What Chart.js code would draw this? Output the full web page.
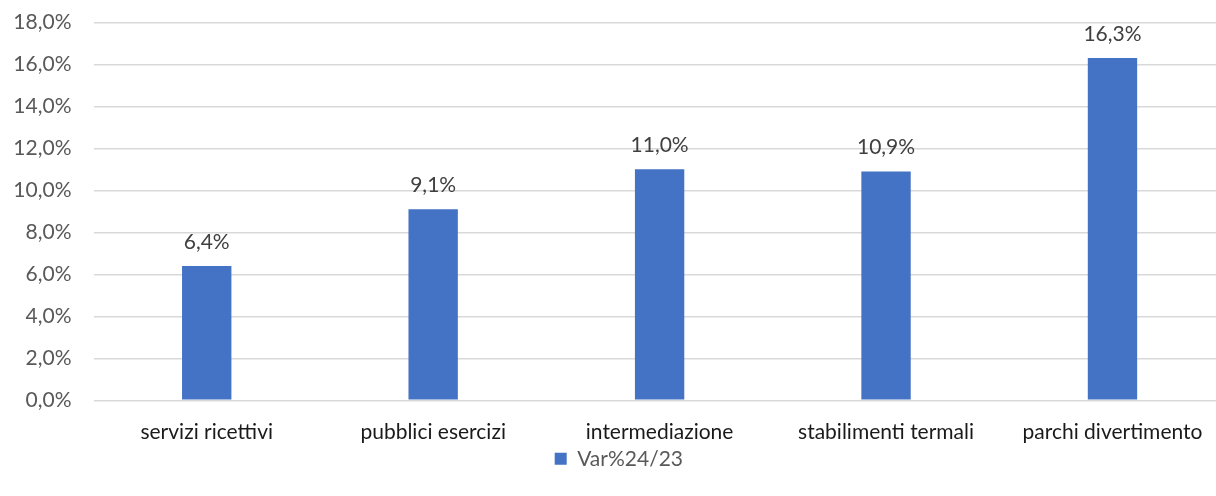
<!DOCTYPE html>
<html>
<head>
<meta charset="utf-8">
<script src="https://cdn.jsdelivr.net/npm/chart.js@4.4.0/dist/chart.umd.min.js"></script>
<style>
  html, body { margin: 0; padding: 0; background: #fff; overflow: hidden; }
  #wrap { width: 1232px; height: 496px; position: relative; }
  #c { position: absolute; left: 12px; top: 0; }
</style>
</head>
<body>
<div id="wrap"><canvas id="c" width="1220" height="496"></canvas></div>
<script>
const categories = ["servizi ricettivi", "pubblici esercizi", "intermediazione", "stabilimenti termali", "parchi divertimento"];
const seriesName = "Var%24/23";
const values = [6.4, 9.1, 11.0, 10.9, 16.3];
const yTicks = [0, 2, 4, 6, 8, 10, 12, 14, 16, 18];

const FONT = "Lato, 'Open Sans', sans-serif";
const FS = 21;
const fmt = v => v.toFixed(1).replace('.', ',') + '%';

const valueLabels = {
  id: 'valueLabels',
  afterDatasetsDraw(chart) {
    const ctx = chart.ctx;
    const meta = chart.getDatasetMeta(0);
    ctx.save();
    ctx.font = FS + "px " + FONT;
    ctx.fillStyle = '#404040';
    ctx.textAlign = 'center';
    ctx.textBaseline = 'middle';
    meta.data.forEach((bar, i) => {
      ctx.fillText(fmt(values[i]), bar.x, bar.y - 24);
    });
    ctx.restore();
  }
};

new Chart(document.getElementById('c'), {
  type: 'bar',
  data: {
    labels: categories,
    datasets: [{
      label: seriesName,
      data: values,
      backgroundColor: '#4472C4',
      borderWidth: 0,
      categoryPercentage: 1,
      barPercentage: 0.218
    }]
  },
  options: {
    responsive: false,
    animation: false,
    devicePixelRatio: 1,
    layout: { padding: { top: 22.3, right: 6.3, left: 0, bottom: 16.7 } },
    plugins: {
      tooltip: { enabled: false },
      legend: {
        position: 'bottom',
        labels: {
          font: { family: FONT, size: FS },
          color: '#595959',
          boxWidth: 12,
          boxHeight: 12,
          padding: 3
        }
      }
    },
    scales: {
      x: {
        afterFit(scale) { scale.height = 45; },
        grid: { display: false, drawTicks: false },
        border: { display: false },
        ticks: {
          font: { family: FONT, size: FS },
          color: '#1a1a1a',
          padding: 19,
          maxRotation: 0,
          autoSkip: false
        }
      },
      y: {
        min: 0,
        max: 18,
        afterFit(scale) {
          scale.width = 81.5;
          scale.paddingTop = 0;
          scale.paddingBottom = 0;
        },
        afterBuildTicks(scale) { scale.ticks = yTicks.map(v => ({ value: v })); },
        grid: { color: '#d9d9d9', lineWidth: 1.5, drawTicks: false },
        border: { display: false },
        ticks: {
          font: { family: FONT, size: FS },
          color: '#595959',
          padding: 22,
          callback: v => fmt(v)
        }
      }
    }
  },
  plugins: [valueLabels]
});
</script>
</body>
</html>
